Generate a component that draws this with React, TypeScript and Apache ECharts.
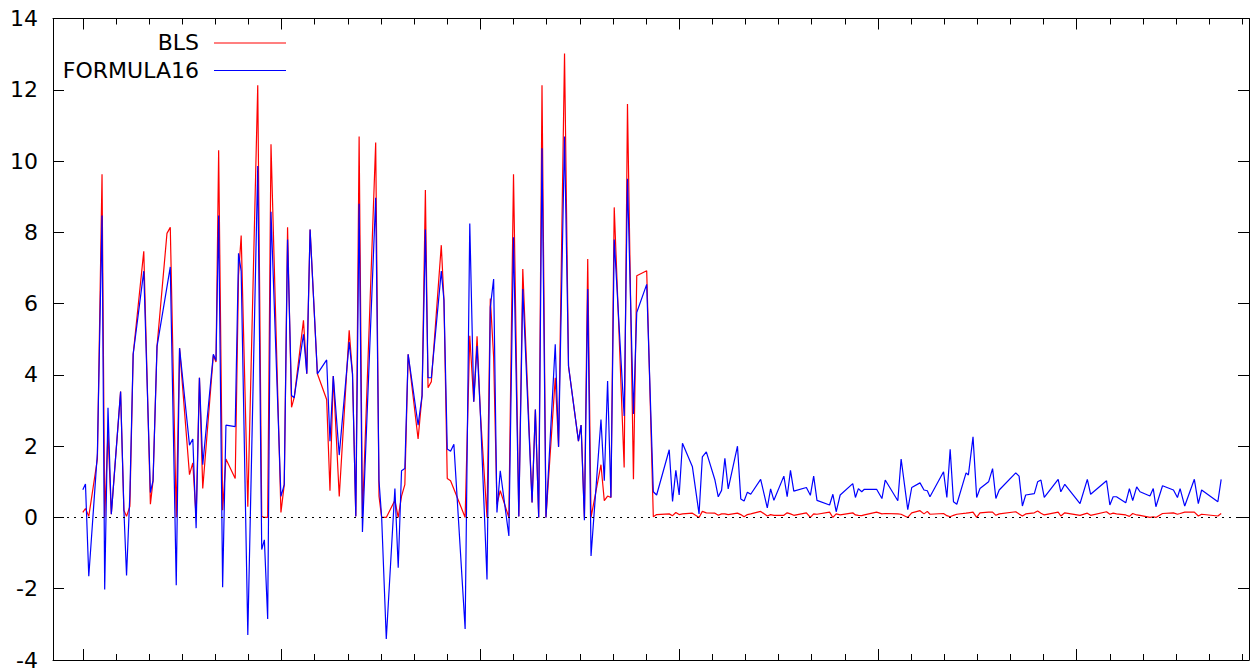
import React, { useEffect, useRef } from "react";
import * as echarts from "echarts";

// x positions (days from the first major tick)
const days = [
  0, 0.4, 0.9, 2.2, 2.9, 3.3, 3.8, 4.3, 5.7, 6.2,
  6.6, 7.1, 7.6, 9.2, 10.2, 10.6, 11.2, 12.7, 13.2, 14.1,
  14.6, 16.1, 16.6, 17.1, 17.6, 18.1, 19.7, 20.1, 20.5, 21.1,
  21.6, 23.0, 23.5, 23.9, 24.9, 26.4, 27.0, 27.4, 27.9, 28.4,
  29.9, 30.4, 30.9, 31.5, 31.9, 33.3, 33.8, 34.3, 35.4, 36.8,
  37.3, 37.8, 38.7, 40.2, 40.7, 41.2, 41.7, 42.2, 44.2, 44.7,
  45.1, 45.8, 47.1, 47.6, 48.1, 48.6, 49.1, 50.6, 51.2, 51.7,
  52.1, 52.6, 54.1, 54.5, 55.0, 55.5, 56.0, 57.7, 58.4, 59.0,
  59.5, 60.0, 61.0, 61.5, 62.0, 62.5, 63.0, 64.3, 65.0, 65.8,
  66.4, 67.8, 68.3, 68.8, 69.3, 69.9, 71.3, 71.8, 72.7, 73.3,
  74.8, 75.2, 75.7, 76.2, 76.7, 78.2, 78.7, 79.2, 79.7, 80.2,
  81.7, 82.2, 83.1, 83.6, 85.1, 86.1, 86.6, 88.5, 89.0, 89.5,
  90.0, 90.5, 92.0, 93.0, 93.5, 94.1, 95.4, 95.9, 96.4, 96.9,
  97.4, 98.8, 99.3, 99.8, 100.3, 100.8, 102.3, 103.3, 103.8, 104.3,
  105.8, 106.3, 106.8, 107.3, 109.2, 109.8, 110.3, 110.8, 112.7, 113.2,
  113.7, 114.3, 116.2, 116.6, 117.05, 117.55, 117.95, 119.8, 120.6, 121.1,
  123.0, 123.5, 124.5, 125.1, 126.35, 126.95, 127.45, 127.85, 129.9, 130.4,
  130.9, 131.4, 131.9, 133.3, 133.65, 134.35, 134.9, 135.4, 136.7, 137.3,
  137.8, 138.3, 140.8, 141.3, 141.8, 142.3, 143.6, 144.1, 144.6, 145.1,
  147.2, 147.6, 148.2, 150.5, 151.6, 152.1, 154.5, 155.0, 155.5, 156.0,
  157.4, 157.95, 158.45, 159.05, 159.55, 161.05, 161.55, 161.95, 162.95, 164.6,
  165.2, 165.6, 166.3, 167.75, 168.35, 168.85, 171.3, 171.8,
];

const bls = [
  0.14, 0.25, 0.03, 1.64, 9.63, 0.0, 2.4, 0.09, 3.53, 0.2,
  0.03, 0.31, 4.58, 7.47, 0.37, 1.03, 4.8, 7.97, 8.14, 0.0,
  4.75, 1.2, 1.53, 0.0, 3.92, 0.81, 4.55, 4.36, 10.3, 0.2,
  1.64, 1.09, 6.8, 7.91, 0.3, 12.13, 0.03, 0.0, 0.0, 10.47,
  0.14, 0.92, 8.14, 3.09, 3.36, 5.53, 4.03, 8.08, 4.03, 3.31,
  0.75, 3.97, 0.59, 5.25, 4.03, 0.03, 10.69, 0.0, 10.52, 0.6,
  0.0, 0.0, 0.48, 0.0, 0.6, 0.92, 4.58, 2.2, 3.42, 9.19,
  3.64, 3.81, 7.64, 6.1, 1.09, 1.03, 0.8, 0.0, 5.1, 3.25,
  5.08, 2.92, 0.0, 6.14, 4.5, 0.37, 0.75, 0.0, 9.63, 0.03,
  6.97, 0.42, 3.03, 0.0, 12.13, 0.0, 3.92, 1.98, 13.02, 4.25,
  2.14, 2.59, 0.0, 7.25, 0.0, 1.48, 0.47, 0.6, 0.56, 8.7,
  1.4, 11.6, 1.07, 6.78, 6.92, 0.02, 0.08, 0.1, 0.05, 0.14,
  0.08, 0.1, 0.12, 0.0, 0.17, 0.13, 0.12, 0.06, 0.1, 0.1,
  0.08, 0.12, 0.08, 0.02, 0.08, 0.1, 0.17, 0.04, 0.08, 0.06,
  0.06, 0.13, 0.1, 0.06, 0.13, 0.0, 0.1, 0.09, 0.15, 0.0,
  0.1, 0.07, 0.13, 0.07, 0.06, 0.05, 0.07, 0.15, 0.1, 0.11,
  0.1, 0.09, 0.0, 0.13, 0.19, 0.1, 0.17, 0.09, 0.11, 0.05,
  0.02, 0.06, 0.09, 0.12, 0.13, 0.15, 0.0, 0.13, 0.15, 0.15,
  0.06, 0.1, 0.16, 0.1, 0.04, 0.1, 0.13, 0.18, 0.12, 0.07,
  0.15, 0.04, 0.13, 0.06, 0.12, 0.06, 0.16, 0.09, 0.12, 0.1,
  0.07, 0.03, 0.11, 0.07, 0.06, 0.0, 0.02, 0.0, 0.11, 0.13,
  0.09, 0.11, 0.15, 0.15, 0.04, 0.09, 0.04, 0.11,
];

const formula16 = [
  0.78, 0.94, -1.65, 1.81, 8.47, -2.02, 3.08, 0.09, 3.53, 0.2,
  -1.63, 0.64, 4.58, 6.91, 0.7, 1.03, 4.8, 6.47, 7.03, -1.9,
  4.75, 2.03, 2.2, -0.3, 3.92, 1.48, 4.58, 4.4, 8.47, -1.96,
  2.59, 2.55, 7.41, 6.91, -3.3, 9.86, -0.9, -0.63, -2.85, 8.58,
  0.59, 0.92, 7.8, 3.42, 3.36, 5.14, 4.03, 8.08, 4.03, 4.42,
  2.14, 3.97, 1.75, 4.92, 4.03, 0.03, 8.8, -0.41, 8.97, 1.03,
  0.0, -3.41, 0.81, -1.41, 1.31, 1.37, 4.58, 2.59, 3.42, 8.08,
  3.92, 3.92, 6.91, 6.1, 1.92, 1.86, 2.05, -3.13, 8.25, 3.25,
  4.81, 2.92, -1.74, 5.9, 6.69, 0.14, 1.31, -0.52, 7.86, 0.03,
  6.41, 0.42, 3.03, 0.0, 10.36, 0.0, 4.86, 1.98, 10.69, 4.25,
  2.14, 2.59, -0.08, 6.41, -1.08, 2.75, 1.03, 3.83, 0.56, 7.8,
  2.85, 9.5, 2.9, 5.75, 6.54, 0.72, 0.63, 1.9, 0.45, 1.32,
  0.63, 2.08, 1.42, 0.1, 1.7, 1.84, 1.05, 0.58, 0.76, 1.66,
  0.8, 2.0, 0.52, 0.46, 0.71, 0.65, 1.07, 0.27, 0.8, 0.48,
  1.16, 0.58, 1.32, 0.74, 0.84, 0.62, 1.16, 0.48, 0.35, 0.65,
  0.16, 0.63, 0.95, 0.56, 0.81, 0.72, 0.79, 0.79, 0.53, 1.05,
  0.47, 1.64, 0.22, 0.84, 0.97, 0.77, 0.75, 0.58, 1.28, 0.56,
  1.91, 0.44, 0.37, 1.25, 1.19, 2.26, 0.56, 0.81, 1.0, 1.37,
  0.53, 0.77, 1.25, 1.16, 0.32, 0.63, 0.67, 1.0, 1.05, 0.56,
  1.07, 0.72, 0.93, 0.39, 1.07, 0.65, 1.03, 0.35, 0.58, 0.58,
  0.41, 0.81, 0.47, 0.86, 0.72, 0.6, 0.81, 0.3, 0.89, 0.77,
  0.56, 0.81, 0.32, 1.07, 0.39, 0.77, 0.44, 1.07,
];

const majorTicks = [0, 30, 60, 90, 120, 150];
const minorTicks = [
  5, 10, 15, 20, 25, 35, 40, 45, 50, 55, 65, 70, 75, 80, 85,
  95, 100, 105, 110, 115, 125, 130, 135, 140, 145, 155, 160, 165, 170, 175,
];
const seriesNames = ["BLS", "FORMULA16"];
const seriesColors = ["#ff0000", "#0000ff"];

const FONT = "DejaVu Sans";

export default function App() {
  const ref = useRef<HTMLDivElement>(null);

  useEffect(() => {
    document.body.style.margin = "0";
    const chart = echarts.init(ref.current!, null, { renderer: "svg" });

    const n = Math.min(days.length, bls.length, formula16.length);
    const blsData: number[][] = [];
    const f16Data: number[][] = [];
    for (let i = 0; i < n; i++) {
      blsData.push([days[i], bls[i]]);
      f16Data.push([days[i], formula16[i]]);
    }

    const axisColor = "#000";
    const xAxisDef = (position: string, ticks: number[], len: number, showLine: boolean) => ({
      type: "value",
      min: -4.5,
      max: 176,
      position,
      axisLine: { show: showLine, onZero: false, lineStyle: { color: axisColor, width: 1 } },
      axisTick: {
        show: true,
        inside: true,
        length: len,
        customValues: ticks,
        lineStyle: { color: axisColor, width: 1 },
      },
      axisLabel: { show: false },
      splitLine: { show: false },
    });

    const yAxisDef = (position: string, showLabel: boolean) => ({
      type: "value",
      min: -4,
      max: 14,
      interval: 2,
      position,
      axisLine: { show: true, onZero: false, lineStyle: { color: axisColor, width: 1 } },
      axisTick: { show: true, inside: true, length: 11, lineStyle: { color: axisColor, width: 1 } },
      axisLabel: {
        show: showLabel,
        margin: 15,
        color: "#000",
        fontSize: 22,
        fontFamily: FONT,
      },
      splitLine: { show: false },
    });

    const legendGraphics: any[] = [];
    seriesNames.forEach((name, i) => {
      const y = 42.5 + i * 27.5;
      legendGraphics.push({
        type: "text",
        x: 199,
        y,
        style: {
          text: name,
          align: "right",
          verticalAlign: "middle",
          fontSize: 22,
          fontFamily: FONT,
          fill: "#000",
        },
      });
      legendGraphics.push({
        type: "line",
        shape: { x1: 214, y1: y + 0.5, x2: 286, y2: y + 0.5 },
        style: { stroke: seriesColors[i], lineWidth: 1.2 },
      });
    });

    chart.setOption({
      animation: false,
      backgroundColor: "#fff",
      grid: { left: 53, right: 7, top: 18.5, bottom: 10.5, containLabel: false },
      xAxis: [
        xAxisDef("bottom", majorTicks, 11, true),
        xAxisDef("bottom", minorTicks, 6, false),
        xAxisDef("top", majorTicks, 11, true),
        xAxisDef("top", minorTicks, 6, false),
      ],
      yAxis: [yAxisDef("left", true), yAxisDef("right", false)],
      graphic: legendGraphics,
      series: [
        {
          type: "line",
          name: seriesNames[0],
          xAxisIndex: 0,
          yAxisIndex: 0,
          data: blsData,
          symbol: "none",
          lineStyle: { color: seriesColors[0], width: 1.2 },
          itemStyle: { color: seriesColors[0] },
          markLine: {
            silent: true,
            symbol: ["none", "none"],
            label: { show: false },
            lineStyle: { color: "#000", width: 1.2, type: [2, 5] },
            data: [{ yAxis: 0 }],
          },
        },
        {
          type: "line",
          name: seriesNames[1],
          xAxisIndex: 0,
          yAxisIndex: 0,
          data: f16Data,
          symbol: "none",
          lineStyle: { color: seriesColors[1], width: 1.2 },
          itemStyle: { color: seriesColors[1] },
        },
      ],
    });

    return () => {
      chart.dispose();
    };
  }, []);

  return <div ref={ref} style={{ width: 1256, height: 671 }} />;
}
